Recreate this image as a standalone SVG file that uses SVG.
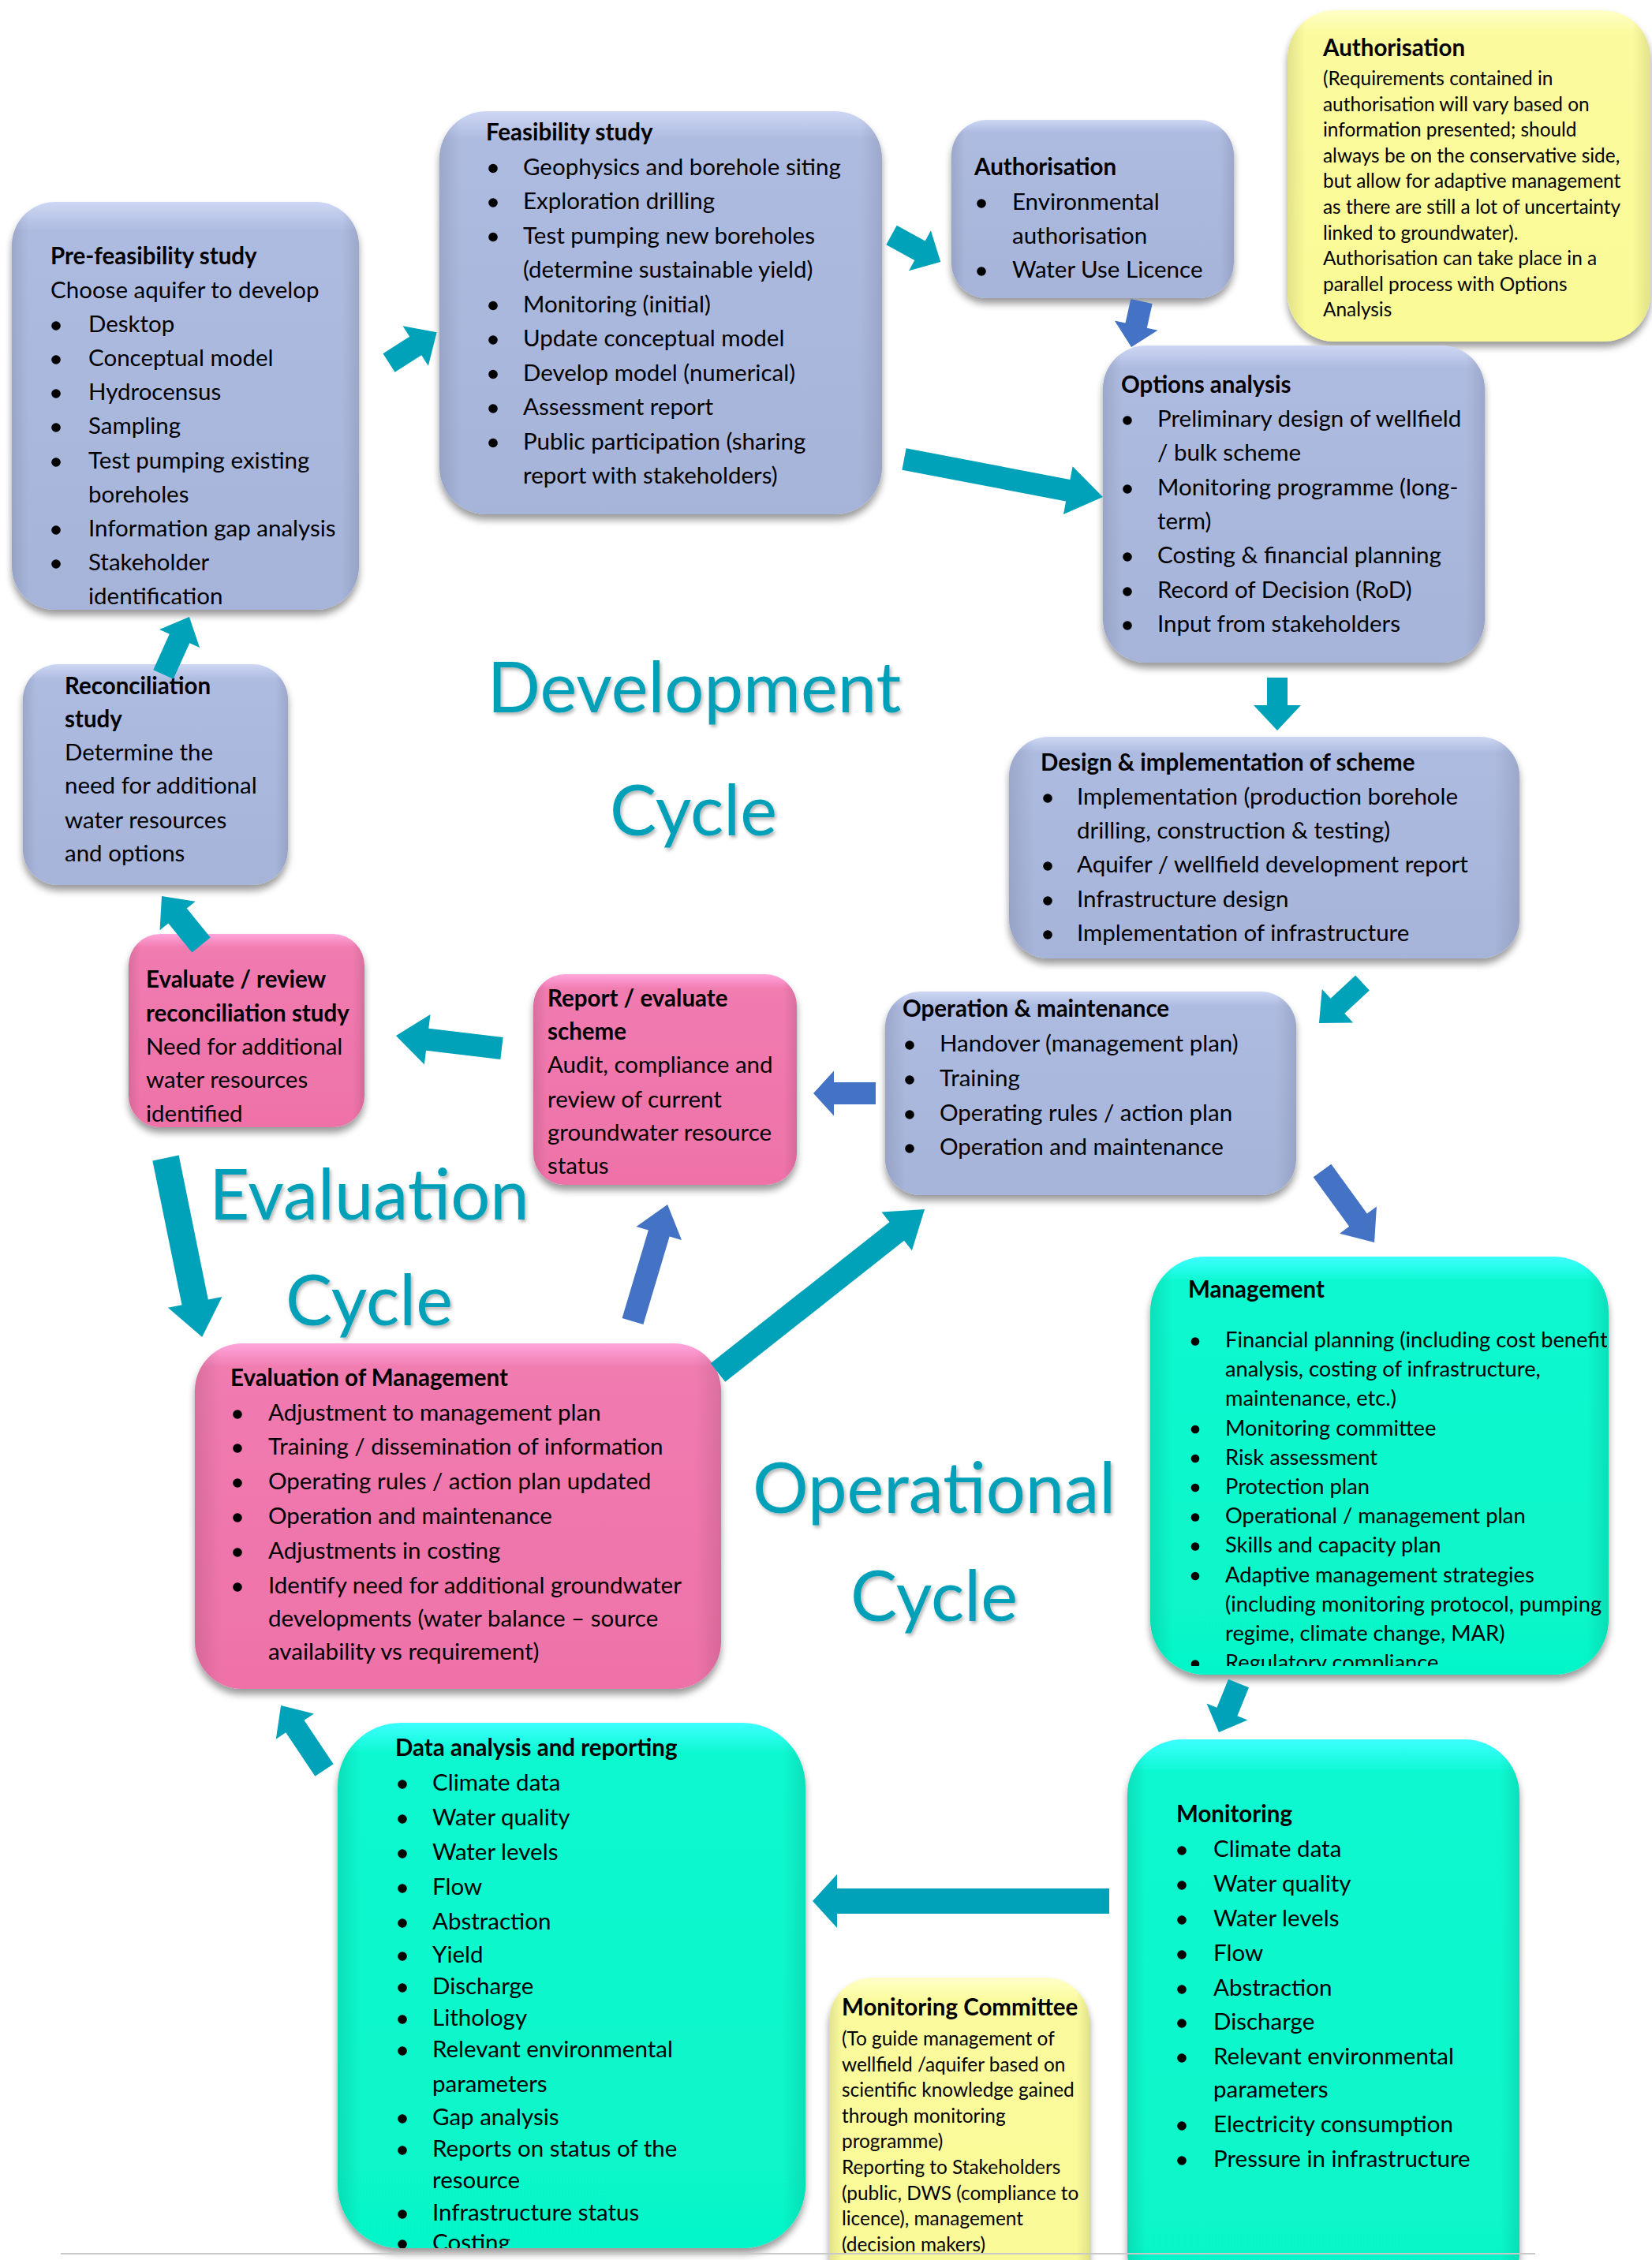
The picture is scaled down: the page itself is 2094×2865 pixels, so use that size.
<svg xmlns="http://www.w3.org/2000/svg" width="2094" height="2865" viewBox="0 0 2094 2865">
<style>
.t{font-family:Lato,"Liberation Sans",sans-serif;font-size:29.5px;fill:#000}
.b{font-weight:700}
.m{font-size:27.3px}
.s{font-size:24.4px}
.big{font-family:Lato,"Liberation Sans",sans-serif;font-size:88.5px;fill:#05A0B8;text-anchor:middle}
.bul{fill:#000}
.teal{fill:#00A2BA}
.blu{fill:#4472C4}
.bx{filter:url(#sh)}
.blue{fill:url(#gBlue)}
.pink{fill:url(#gPink)}
.cyan{fill:url(#gCyan)}
.yel{fill:url(#gYel)}
.edge{fill:url(#gEdge)}
</style>
<defs>
<filter id="sh" x="-10%" y="-10%" width="120%" height="130%">
<feGaussianBlur in="SourceAlpha" stdDeviation="5"/>
<feOffset dx="0" dy="7"/>
<feComponentTransfer><feFuncA type="linear" slope="0.4"/></feComponentTransfer>
<feMerge><feMergeNode/><feMergeNode in="SourceGraphic"/></feMerge>
</filter>
<filter id="tsh" x="-5%" y="-10%" width="110%" height="130%">
<feGaussianBlur in="SourceAlpha" stdDeviation="2"/>
<feOffset dx="2" dy="3"/>
<feComponentTransfer><feFuncA type="linear" slope="0.3"/></feComponentTransfer>
<feMerge><feMergeNode/><feMergeNode in="SourceGraphic"/></feMerge>
</filter>
<linearGradient id="gBlue" x1="0" y1="0" x2="0" y2="1">
<stop offset="0" stop-color="#CDD7F4"/><stop offset="0.07" stop-color="#AEBBE0"/><stop offset="1" stop-color="#A6B4DA"/>
</linearGradient>
<linearGradient id="gPink" x1="0" y1="0" x2="0" y2="1">
<stop offset="0" stop-color="#FFA6DC"/><stop offset="0.07" stop-color="#F07BB0"/><stop offset="1" stop-color="#EE72A8"/>
</linearGradient>
<linearGradient id="gCyan" x1="0" y1="0" x2="0" y2="1">
<stop offset="0" stop-color="#3CFFFF"/><stop offset="0.06" stop-color="#0CF8D0"/><stop offset="1" stop-color="#06F6C8"/>
</linearGradient>
<linearGradient id="gYel" x1="0" y1="0" x2="0" y2="1">
<stop offset="0" stop-color="#FFFFC8"/><stop offset="0.07" stop-color="#FBFB9E"/><stop offset="1" stop-color="#FAFA96"/>
</linearGradient>
<linearGradient id="gEdge" x1="0" y1="0" x2="1" y2="0">
<stop offset="0" stop-color="#000" stop-opacity="0.1"/><stop offset="0.05" stop-color="#000" stop-opacity="0"/><stop offset="0.95" stop-color="#000" stop-opacity="0"/><stop offset="1" stop-color="#000" stop-opacity="0.1"/>
</linearGradient>
<clipPath id="cMgmt"><rect x="1458" y="1593" width="579" height="519"/></clipPath>
<clipPath id="cData"><rect x="428" y="2184" width="593" height="666" rx="80"/></clipPath>
</defs>
<rect width="2094" height="2865" fill="#FFFFFF"/>

<g id="labels" filter="url(#tsh)">
<text class="big" x="880" y="903">Development</text>
<text class="big" x="879" y="1059">Cycle</text>
<text class="big" x="468" y="1546">Evaluation</text>
<text class="big" x="468" y="1680">Cycle</text>
<text class="big" x="1184" y="1918">Operational</text>
<text class="big" x="1184" y="2055">Cycle</text>
</g>

<g id="prefeas">
<rect class="bx blue" x="15" y="256" width="440" height="517" rx="55"/>
<rect class="edge" x="15" y="256" width="440" height="517" rx="55"/>
<text class="t b" x="64" y="335">Pre-feasibility study</text>
<text class="t" x="64" y="378">Choose aquifer to develop</text>
<g class="bul"><circle cx="71" cy="413" r="5.8"/><circle cx="71" cy="456" r="5.8"/><circle cx="71" cy="499" r="5.8"/><circle cx="71" cy="542" r="5.8"/><circle cx="71" cy="586" r="5.8"/><circle cx="71" cy="672" r="5.8"/><circle cx="71" cy="715" r="5.8"/></g>
<text class="t" x="112" y="421">Desktop</text>
<text class="t" x="112" y="464">Conceptual model</text>
<text class="t" x="112" y="507">Hydrocensus</text>
<text class="t" x="112" y="550">Sampling</text>
<text class="t" x="112" y="594">Test pumping existing</text>
<text class="t" x="112" y="637">boreholes</text>
<text class="t" x="112" y="680">Information gap analysis</text>
<text class="t" x="112" y="723">Stakeholder</text>
<text class="t" x="112" y="766">identification</text>
</g>

<g id="feasibility">
<rect class="bx blue" x="557" y="141" width="561" height="511" rx="60"/>
<rect class="edge" x="557" y="141" width="561" height="511" rx="60"/>
<text class="t b" x="616" y="178">Feasibility study</text>
<g class="bul"><circle cx="625" cy="213.5" r="5.8"/><circle cx="625" cy="257" r="5.8"/><circle cx="625" cy="300.5" r="5.8"/><circle cx="625" cy="387.5" r="5.8"/><circle cx="625" cy="431" r="5.8"/><circle cx="625" cy="474.5" r="5.8"/><circle cx="625" cy="518" r="5.8"/><circle cx="625" cy="561.5" r="5.8"/></g>
<text class="t" x="663" y="221.5">Geophysics and borehole siting</text>
<text class="t" x="663" y="265">Exploration drilling</text>
<text class="t" x="663" y="308.5">Test pumping new boreholes</text>
<text class="t" x="663" y="352">(determine sustainable yield)</text>
<text class="t" x="663" y="395.5">Monitoring (initial)</text>
<text class="t" x="663" y="439">Update conceptual model</text>
<text class="t" x="663" y="482.5">Develop model (numerical)</text>
<text class="t" x="663" y="526">Assessment report</text>
<text class="t" x="663" y="569.5">Public participation (sharing</text>
<text class="t" x="663" y="613">report with stakeholders)</text>
</g>

<g id="authorisation">
<rect class="bx blue" x="1206" y="152" width="358" height="226" rx="45"/>
<rect class="edge" x="1206" y="152" width="358" height="226" rx="45"/>
<text class="t b" x="1235" y="222">Authorisation</text>
<g class="bul"><circle cx="1244" cy="258" r="5.8"/><circle cx="1244" cy="344" r="5.8"/></g>
<text class="t" x="1283" y="266">Environmental</text>
<text class="t" x="1283" y="309">authorisation</text>
<text class="t" x="1283" y="352">Water Use Licence</text>
</g>

<g id="authorisation-note">
<rect class="bx yel" x="1632" y="13" width="460" height="420" rx="60"/>
<rect class="edge" x="1632" y="13" width="460" height="420" rx="60"/>
<text class="t b" x="1677" y="71">Authorisation</text>
<text class="t s" x="1677" y="108">(Requirements contained in</text>
<text class="t s" x="1677" y="140.6">authorisation will vary based on</text>
<text class="t s" x="1677" y="173.2">information presented; should</text>
<text class="t s" x="1677" y="205.8">always be on the conservative side,</text>
<text class="t s" x="1677" y="238.4">but allow for adaptive management</text>
<text class="t s" x="1677" y="271">as there are still a lot of uncertainty</text>
<text class="t s" x="1677" y="303.6">linked to groundwater).</text>
<text class="t s" x="1677" y="336.2">Authorisation can take place in a</text>
<text class="t s" x="1677" y="368.8">parallel process with Options</text>
<text class="t s" x="1677" y="401.4">Analysis</text>
</g>

<g id="options">
<rect class="bx blue" x="1398" y="438" width="484" height="402" rx="55"/>
<rect class="edge" x="1398" y="438" width="484" height="402" rx="55"/>
<text class="t b" x="1421" y="498">Options analysis</text>
<g class="bul"><circle cx="1429" cy="533" r="5.8"/><circle cx="1429" cy="620" r="5.8"/><circle cx="1429" cy="706" r="5.8"/><circle cx="1429" cy="750" r="5.8"/><circle cx="1429" cy="793" r="5.8"/></g>
<text class="t" x="1467" y="541">Preliminary design of wellfield</text>
<text class="t" x="1467" y="584">/ bulk scheme</text>
<text class="t" x="1467" y="628">Monitoring programme (long-</text>
<text class="t" x="1467" y="671">term)</text>
<text class="t" x="1467" y="714">Costing &amp; financial planning</text>
<text class="t" x="1467" y="758">Record of Decision (RoD)</text>
<text class="t" x="1467" y="801">Input from stakeholders</text>
</g>

<g id="design">
<rect class="bx blue" x="1279" y="934" width="647" height="281" rx="50"/>
<rect class="edge" x="1279" y="934" width="647" height="281" rx="50"/>
<text class="t b" x="1319" y="977">Design &amp; implementation of scheme</text>
<g class="bul"><circle cx="1328" cy="1012" r="5.8"/><circle cx="1328" cy="1098" r="5.8"/><circle cx="1328" cy="1142" r="5.8"/><circle cx="1328" cy="1185" r="5.8"/></g>
<text class="t" x="1365" y="1020">Implementation (production borehole</text>
<text class="t" x="1365" y="1063">drilling, construction &amp; testing)</text>
<text class="t" x="1365" y="1106">Aquifer / wellfield development report</text>
<text class="t" x="1365" y="1150">Infrastructure design</text>
<text class="t" x="1365" y="1193">Implementation of infrastructure</text>
</g>

<g id="operation">
<rect class="bx blue" x="1122" y="1257" width="521" height="258" rx="45"/>
<rect class="edge" x="1122" y="1257" width="521" height="258" rx="45"/>
<text class="t b" x="1144" y="1289">Operation &amp; maintenance</text>
<g class="bul"><circle cx="1153" cy="1325" r="5.8"/><circle cx="1153" cy="1369" r="5.8"/><circle cx="1153" cy="1413" r="5.8"/><circle cx="1153" cy="1456" r="5.8"/></g>
<text class="t" x="1191" y="1333">Handover (management plan)</text>
<text class="t" x="1191" y="1377">Training</text>
<text class="t" x="1191" y="1421">Operating rules / action plan</text>
<text class="t" x="1191" y="1464">Operation and maintenance</text>
</g>

<g id="report">
<rect class="bx pink" x="676" y="1235" width="334" height="267" rx="40"/>
<rect class="edge" x="676" y="1235" width="334" height="267" rx="40"/>
<text class="t b" x="694" y="1276">Report / evaluate</text>
<text class="t b" x="694" y="1318">scheme</text>
<text class="t" x="694" y="1360">Audit, compliance and</text>
<text class="t" x="694" y="1404">review of current</text>
<text class="t" x="694" y="1446">groundwater resource</text>
<text class="t" x="694" y="1488">status</text>
</g>

<g id="evaluate-review">
<rect class="bx pink" x="163" y="1184" width="299" height="245" rx="40"/>
<rect class="edge" x="163" y="1184" width="299" height="245" rx="40"/>
<text class="t b" x="185" y="1252">Evaluate / review</text>
<text class="t b" x="185" y="1295">reconciliation study</text>
<text class="t" x="185" y="1337">Need for additional</text>
<text class="t" x="185" y="1379">water resources</text>
<text class="t" x="185" y="1422">identified</text>
</g>

<g id="reconciliation">
<rect class="bx blue" x="29" y="842" width="336" height="280" rx="45"/>
<rect class="edge" x="29" y="842" width="336" height="280" rx="45"/>
<text class="t b" x="82" y="880">Reconciliation</text>
<text class="t b" x="82" y="922">study</text>
<text class="t" x="82" y="964">Determine the</text>
<text class="t" x="82" y="1006">need for additional</text>
<text class="t" x="82" y="1050">water resources</text>
<text class="t" x="82" y="1092">and options</text>
</g>

<g id="evaluation-management">
<rect class="bx pink" x="247" y="1703" width="667" height="438" rx="60"/>
<rect class="edge" x="247" y="1703" width="667" height="438" rx="60"/>
<text class="t b" x="292" y="1757">Evaluation of Management</text>
<g class="bul"><circle cx="301" cy="1793" r="5.8"/><circle cx="301" cy="1836" r="5.8"/><circle cx="301" cy="1880" r="5.8"/><circle cx="301" cy="1924" r="5.8"/><circle cx="301" cy="1968" r="5.8"/><circle cx="301" cy="2012" r="5.8"/></g>
<text class="t" x="340" y="1801">Adjustment to management plan</text>
<text class="t" x="340" y="1844">Training / dissemination of information</text>
<text class="t" x="340" y="1888">Operating rules / action plan updated</text>
<text class="t" x="340" y="1932">Operation and maintenance</text>
<text class="t" x="340" y="1976">Adjustments in costing</text>
<text class="t" x="340" y="2020">Identify need for additional groundwater</text>
<text class="t" x="340" y="2062">developments (water balance – source</text>
<text class="t" x="340" y="2104">availability vs requirement)</text>
</g>

<g id="management">
<rect class="bx cyan" x="1458" y="1593" width="581" height="530" rx="70"/>
<rect class="edge" x="1458" y="1593" width="581" height="530" rx="70"/>
<text class="t b" x="1506" y="1645">Management</text>
<g clip-path="url(#cMgmt)">
<g class="bul"><circle cx="1515" cy="1700.5" r="5.3"/><circle cx="1515" cy="1812" r="5.3"/><circle cx="1515" cy="1849" r="5.3"/><circle cx="1515" cy="1886" r="5.3"/><circle cx="1515" cy="1923.5" r="5.3"/><circle cx="1515" cy="1960.5" r="5.3"/><circle cx="1515" cy="1998" r="5.3"/><circle cx="1515" cy="2109.5" r="5.3"/></g>
<text class="t m" x="1553" y="1708">Financial planning (including cost benefit</text>
<text class="t m" x="1553" y="1745.2">analysis, costing of infrastructure,</text>
<text class="t m" x="1553" y="1782.4">maintenance, etc.)</text>
<text class="t m" x="1553" y="1819.6">Monitoring committee</text>
<text class="t m" x="1553" y="1856.8">Risk assessment</text>
<text class="t m" x="1553" y="1894">Protection plan</text>
<text class="t m" x="1553" y="1931.2">Operational / management plan</text>
<text class="t m" x="1553" y="1968.4">Skills and capacity plan</text>
<text class="t m" x="1553" y="2005.6">Adaptive management strategies</text>
<text class="t m" x="1553" y="2042.8">(including monitoring protocol, pumping</text>
<text class="t m" x="1553" y="2080">regime, climate change, MAR)</text>
<text class="t m" x="1553" y="2117.2">Regulatory compliance</text>
</g>
</g>

<g id="monitoring">
<rect class="bx cyan" x="1429" y="2205" width="497" height="720" rx="70"/>
<rect class="edge" x="1429" y="2205" width="497" height="720" rx="70"/>
<text class="t b" x="1491" y="2310">Monitoring</text>
<g class="bul"><circle cx="1498" cy="2346" r="5.8"/><circle cx="1498" cy="2390" r="5.8"/><circle cx="1498" cy="2434" r="5.8"/><circle cx="1498" cy="2478" r="5.8"/><circle cx="1498" cy="2522" r="5.8"/><circle cx="1498" cy="2565" r="5.8"/><circle cx="1498" cy="2609" r="5.8"/><circle cx="1498" cy="2695" r="5.8"/><circle cx="1498" cy="2739" r="5.8"/></g>
<text class="t" x="1538" y="2354">Climate data</text>
<text class="t" x="1538" y="2398">Water quality</text>
<text class="t" x="1538" y="2442">Water levels</text>
<text class="t" x="1538" y="2486">Flow</text>
<text class="t" x="1538" y="2530">Abstraction</text>
<text class="t" x="1538" y="2573">Discharge</text>
<text class="t" x="1538" y="2617">Relevant environmental</text>
<text class="t" x="1538" y="2659">parameters</text>
<text class="t" x="1538" y="2703">Electricity consumption</text>
<text class="t" x="1538" y="2747">Pressure in infrastructure</text>
</g>

<g id="data-analysis">
<rect class="bx cyan" x="428" y="2184" width="593" height="666" rx="80"/>
<rect class="edge" x="428" y="2184" width="593" height="666" rx="80"/>
<g clip-path="url(#cData)">
<text class="t b" x="501" y="2226">Data analysis and reporting</text>
<g class="bul"><circle cx="510" cy="2262" r="5.8"/><circle cx="510" cy="2306" r="5.8"/><circle cx="510" cy="2350" r="5.8"/><circle cx="510" cy="2394" r="5.8"/><circle cx="510" cy="2438" r="5.8"/><circle cx="510" cy="2480" r="5.8"/><circle cx="510" cy="2520" r="5.8"/><circle cx="510" cy="2560" r="5.8"/><circle cx="510" cy="2600" r="5.8"/><circle cx="510" cy="2686" r="5.8"/><circle cx="510" cy="2726" r="5.8"/><circle cx="510" cy="2807" r="5.8"/><circle cx="510" cy="2845" r="5.8"/></g>
<text class="t" x="548" y="2270">Climate data</text>
<text class="t" x="548" y="2314">Water quality</text>
<text class="t" x="548" y="2358">Water levels</text>
<text class="t" x="548" y="2402">Flow</text>
<text class="t" x="548" y="2446">Abstraction</text>
<text class="t" x="548" y="2488">Yield</text>
<text class="t" x="548" y="2528">Discharge</text>
<text class="t" x="548" y="2568">Lithology</text>
<text class="t" x="548" y="2608">Relevant environmental</text>
<text class="t" x="548" y="2652">parameters</text>
<text class="t" x="548" y="2694">Gap analysis</text>
<text class="t" x="548" y="2734">Reports on status of the</text>
<text class="t" x="548" y="2774">resource</text>
<text class="t" x="548" y="2815">Infrastructure status</text>
<text class="t" x="548" y="2853">Costing</text>
</g>
</g>

<g id="monitoring-committee">
<rect class="bx yel" x="1051" y="2507" width="330" height="420" rx="55"/>
<rect class="edge" x="1051" y="2507" width="330" height="420" rx="55"/>
<text class="t b" x="1067" y="2555">Monitoring Committee</text>
<text class="t s" x="1067" y="2593">(To guide management of</text>
<text class="t s" x="1067" y="2625.6">wellfield /aquifer based on</text>
<text class="t s" x="1067" y="2658.2">scientific knowledge gained</text>
<text class="t s" x="1067" y="2690.8">through monitoring</text>
<text class="t s" x="1067" y="2723.4">programme)</text>
<text class="t s" x="1067" y="2756">Reporting to Stakeholders</text>
<text class="t s" x="1067" y="2788.6">(public, DWS (compliance to</text>
<text class="t s" x="1067" y="2821.2">licence), management</text>
<text class="t s" x="1067" y="2853.8">(decision makers)</text>
</g>

<g id="connectors">
<polygon class="teal" transform="translate(493,460) rotate(-32.6)" points="0,-14 40,-14 40,-30 72,0 40,30 40,14 0,14"/>
<polygon class="teal" transform="translate(1130,298) rotate(28.7)" points="0,-14 41,-14 41,-29 71,0 41,29 41,14 0,14"/>
<polygon class="teal" transform="translate(1146,582) rotate(10.8)" points="0,-14 211.5,-14 211.5,-31 256.5,0 211.5,31 211.5,14 0,14"/>
<polygon class="blu" transform="translate(1447,382) rotate(102.6)" points="0,-14 31.4,-14 31.4,-28 59.4,0 31.4,28 31.4,14 0,14"/>
<polygon class="teal" transform="translate(1619,859) rotate(90)" points="0,-13 35,-13 35,-30 67,0 35,30 35,13 0,13"/>
<polygon class="teal" transform="translate(1727,1246) rotate(137.2)" points="0,-13 43,-13 43,-29 75,0 43,29 43,13 0,13"/>
<polygon class="blu" transform="translate(1110,1386) rotate(180)" points="0,-14 53,-14 53,-28.5 79,0 53,28.5 53,14 0,14"/>
<polygon class="teal" transform="translate(636,1329) rotate(186.8)" points="0,-14 95,-14 95,-32 135,0 95,32 95,14 0,14"/>
<polygon class="teal" transform="translate(255,1198) rotate(-128.9)" points="0,-15 47.6,-15 47.6,-29 79.6,0 47.6,29 47.6,15 0,15"/>
<polygon class="teal" transform="translate(207,855) rotate(-65.7)" points="0,-14 50,-14 50,-28 80,0 50,28 50,14 0,14"/>
<polygon class="teal" transform="translate(210,1468) rotate(78.5)" points="0,-17 186.6,-17 186.6,-35 231.6,0 186.6,35 186.6,17 0,17"/>
<polygon class="blu" transform="translate(802,1675) rotate(-73.4)" points="0,-14 116.4,-14 116.4,-30 154.4,0 116.4,30 116.4,14 0,14"/>
<polygon class="teal" transform="translate(910,1740) rotate(-38.3)" points="0,-15 288.9,-15 288.9,-31 333.9,0 288.9,31 288.9,15 0,15"/>
<polygon class="blu" transform="translate(1676,1484) rotate(54)" points="0,-14 77.4,-14 77.4,-29 112.4,0 77.4,29 77.4,14 0,14"/>
<polygon class="teal" transform="translate(1570,2134) rotate(112)" points="0,-14 38.9,-14 38.9,-28 66.9,0 38.9,28 38.9,14 0,14"/>
<polygon class="teal" transform="translate(1406,2410) rotate(180)" points="0,-16 345,-16 345,-34 376,0 345,34 345,16 0,16"/>
<polygon class="teal" transform="translate(411,2244) rotate(-123.8)" points="0,-14 66.7,-14 66.7,-29 98.7,0 66.7,29 66.7,14 0,14"/>
</g>

<line x1="77" y1="2857" x2="1946" y2="2857" stroke="#C8C8C8" stroke-width="2"/>
</svg>
